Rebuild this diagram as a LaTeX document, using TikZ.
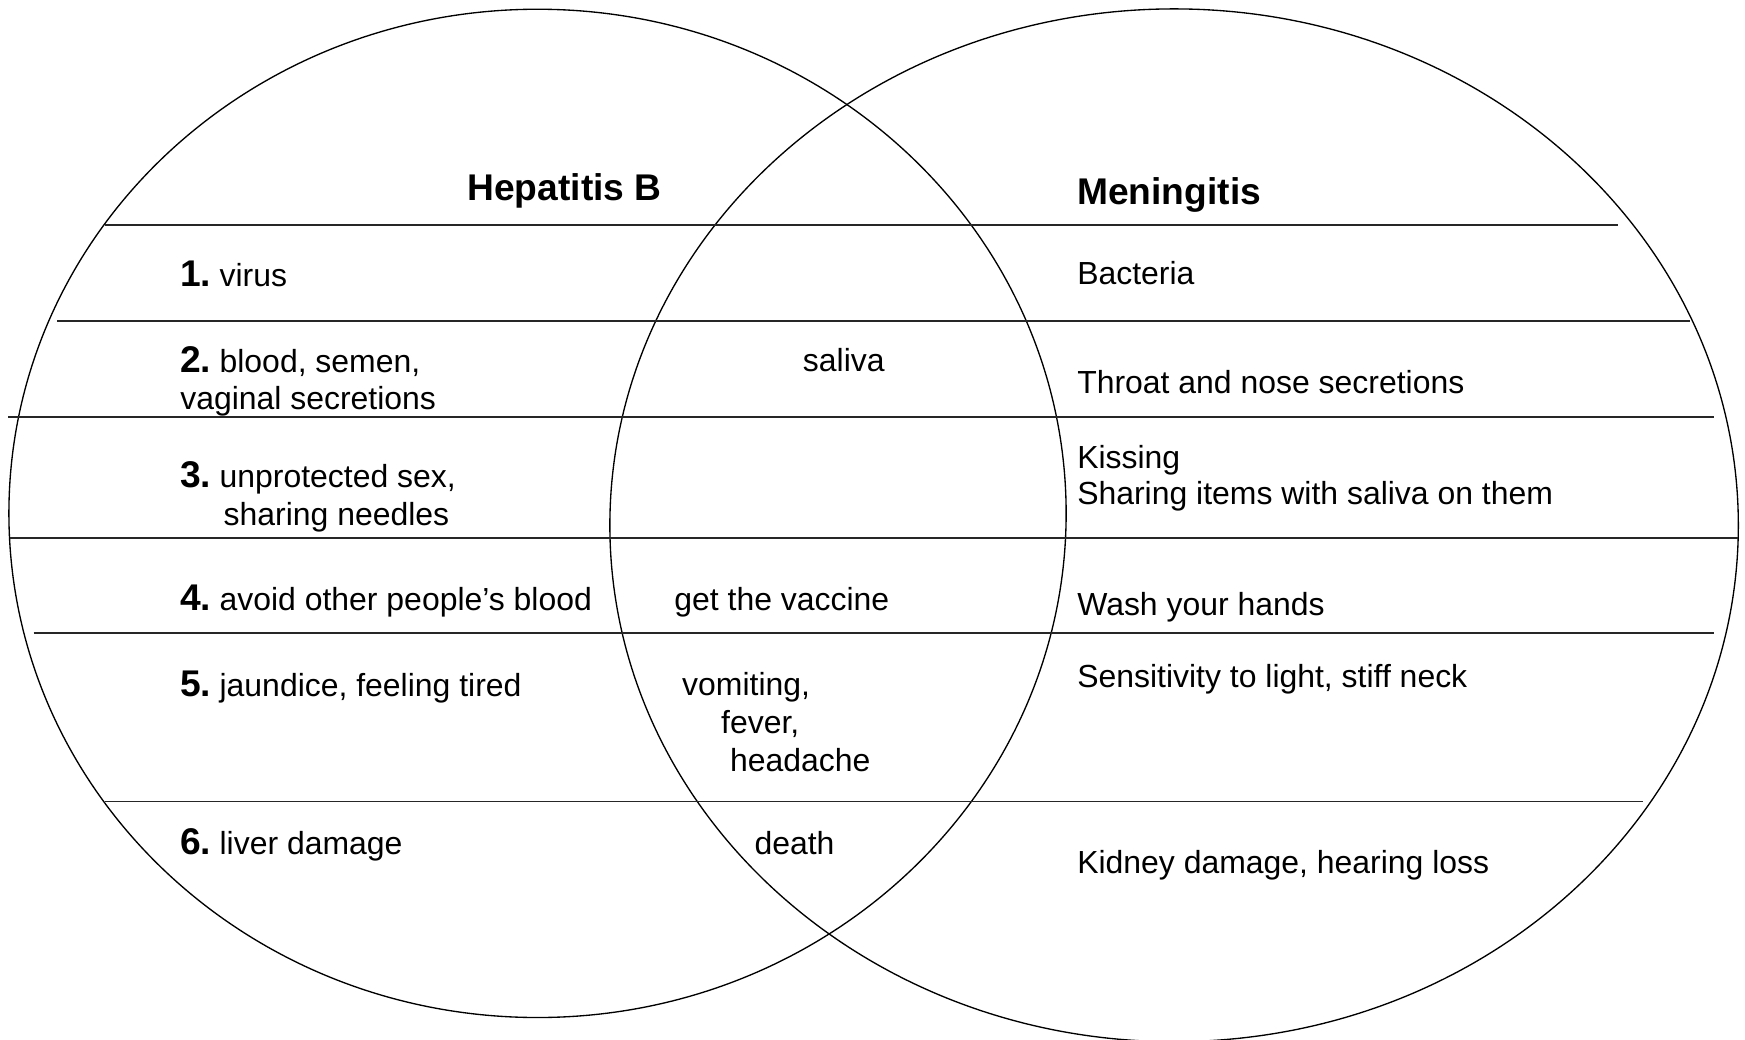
\documentclass[tikz,border=0pt]{standalone}
\usepackage{fontspec}
\setmainfont{Liberation Sans}
\newcommand\itemnum[1]{{\fontsize{33.4}{40}\selectfont\bfseries #1}\hspace{7.5pt}}
\begin{document}
\begin{tikzpicture}[x=1pt,y=-1pt,
  txt/.style={anchor=base west, inner sep=0pt, outer sep=0pt, font=\fontsize{28.7}{34}\selectfont},
  ttl/.style={anchor=base west, inner sep=0pt, outer sep=0pt, font=\fontsize{33.4}{40}\selectfont\bfseries},
  rule/.style={line width=1.4pt, black!85},
  ring/.style={line width=1.2pt, black}]
\useasboundingbox (0,0) rectangle (1568,934);
% circles
\draw[ring] (483,461.3) ellipse [x radius=475, y radius=453];
\draw[ring] (1055,472) ellipse [x radius=507, y radius=464];
% rows
\draw[rule] (94.5,202.2) -- (1454,202.2);
\draw[rule] (51.6,288.5) -- (1519,288.5);
\draw[rule] (7.6,374.6) -- (1540,374.6);
\draw[rule] (8.6,483.2) -- (1562,483.2);
\draw[rule] (30.3,569) -- (1540,569);
\draw[rule] (94.5,720.2) -- (1476,720.2);
% titles
\node[ttl] (hepB) at (420,180.5) {Hepatitis B};
\node[ttl] (men) at (968,183.5) {Meningitis};
% row 1
\node[txt] (h1) at (162,257) {\itemnum{1.}virus};
\node[txt] (m1) at (968,256) {Bacteria};
% row 2
\node[txt] (h2a) at (162,335) {\itemnum{2.}blood, semen,};
\node[txt] (h2b) at (162,368) {vaginal secretions};
\node[txt] (c2) at (721.5,333.5) {saliva};
\node[txt] (m2) at (968,354) {Throat and nose secretions};
% row 3
\node[txt] (h3a) at (162,438) {\itemnum{3.}unprotected sex,};
\node[txt] (h3b) at (201,472) {sharing needles};
\node[txt] (m3a) at (968,421) {Kissing};
\node[txt] (m3b) at (968,453) {Sharing items with saliva on them};
% row 4
\node[txt] (h4) at (162,549) {\itemnum{4.}avoid other people’s blood};
\node[txt] (c4) at (606,549) {get the vaccine};
\node[txt] (m4) at (968,553) {Wash your hands};
% row 5
\node[txt] (h5) at (162,626) {\itemnum{5.}jaundice, feeling tired};
\node[txt] (c5a) at (613,625) {vomiting,};
\node[txt] (c5b) at (648,659) {fever,};
\node[txt] (c5c) at (656,693) {headache};
\node[txt] (m5) at (968,618) {Sensitivity to light, stiff neck};
% row 6
\node[txt] (h6) at (162,768) {\itemnum{6.}liver damage};
\node[txt] (c6) at (678,768) {death};
\node[txt] (m6) at (968,785) {Kidney damage, hearing loss};
\end{tikzpicture}
\end{document}
